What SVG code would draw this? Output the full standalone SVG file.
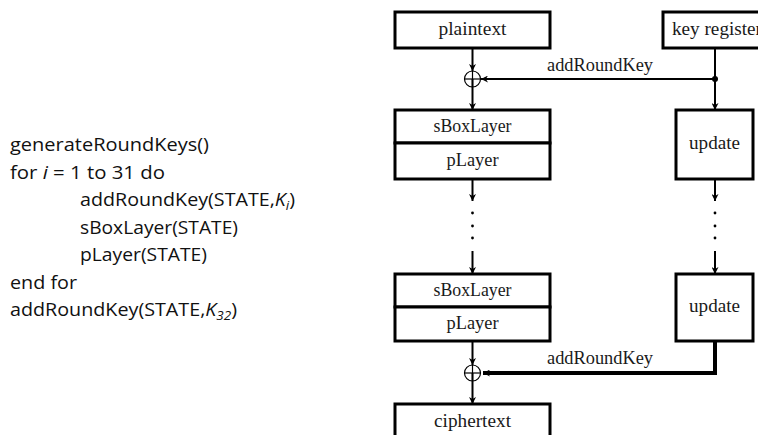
<svg xmlns="http://www.w3.org/2000/svg" width="758" height="435" viewBox="0 0 758 435">
<defs>
<marker id="ah" viewBox="0 0 10 10" refX="10" refY="5" markerWidth="7" markerHeight="7" markerUnits="userSpaceOnUse" orient="auto">
<path d="M0,0 L10,5 L0,10 L3,5 Z" fill="#000"/>
</marker>
</defs>
<style>
.box{fill:#fff;stroke:#000;stroke-width:3}
.lbl{font-family:"Liberation Serif","Times New Roman",serif;font-size:18px;fill:#1a1a1a;text-anchor:middle}
.code{font-family:"Open Sans","Noto Sans",sans-serif;font-size:19px;fill:#111}
.ln{stroke:#000;stroke-width:2;fill:none}
.thk{stroke:#000;stroke-width:4;fill:none}
.xor{fill:none;stroke:#000;stroke-width:1.2}
</style>
<rect width="758" height="435" fill="#fff"/>

<g id="pseudocode">
<text class="code" x="10" y="151" textLength="199" lengthAdjust="spacingAndGlyphs">generateRoundKeys()</text>
<text class="code" x="10" y="178.5" textLength="155" lengthAdjust="spacingAndGlyphs">for <tspan font-style="italic">i</tspan> = 1 to 31 do</text>
<text class="code" x="80" y="206" textLength="215" lengthAdjust="spacingAndGlyphs">addRoundKey(STATE,<tspan font-style="italic">K</tspan><tspan font-style="italic" font-size="13" dy="4">i</tspan><tspan dy="-4">)</tspan></text>
<text class="code" x="80" y="233.5" textLength="158" lengthAdjust="spacingAndGlyphs">sBoxLayer(STATE)</text>
<text class="code" x="80" y="261" textLength="127" lengthAdjust="spacingAndGlyphs">pLayer(STATE)</text>
<text class="code" x="10" y="288.5" textLength="67" lengthAdjust="spacingAndGlyphs">end for</text>
<text class="code" x="10" y="316" textLength="227" lengthAdjust="spacingAndGlyphs">addRoundKey(STATE,<tspan font-style="italic">K</tspan><tspan font-style="italic" font-size="13" dy="4">32</tspan><tspan dy="-4">)</tspan></text>
</g>

<g id="connectors">
<line class="ln" x1="472.5" y1="48" x2="472.5" y2="71" marker-end="url(#ah)"/>
<line class="ln" x1="472.5" y1="79" x2="472.5" y2="110" marker-end="url(#ah)"/>
<line class="ln" x1="715" y1="48" x2="715" y2="110" marker-end="url(#ah)"/>
<line class="ln" x1="715" y1="79" x2="481" y2="79" marker-end="url(#ah)" stroke-width="2.5"/>
<circle cx="715" cy="79" r="3" fill="#000"/>
<line class="ln" x1="472.5" y1="179" x2="472.5" y2="201" marker-end="url(#ah)"/>
<line class="ln" x1="715" y1="179" x2="715" y2="201" marker-end="url(#ah)"/>
<line class="ln" x1="472.5" y1="251" x2="472.5" y2="274" marker-end="url(#ah)"/>
<line class="ln" x1="715" y1="251" x2="715" y2="274" marker-end="url(#ah)"/>
<g fill="#000">
<circle cx="472.5" cy="213" r="1.4"/><circle cx="472.5" cy="226" r="1.4"/><circle cx="472.5" cy="238" r="1.4"/>
<circle cx="715" cy="213" r="1.4"/><circle cx="715" cy="226" r="1.4"/><circle cx="715" cy="238" r="1.4"/>
</g>
<line class="ln" x1="472.5" y1="341" x2="472.5" y2="365" marker-end="url(#ah)"/>
<line class="ln" x1="472.5" y1="373" x2="472.5" y2="404" marker-end="url(#ah)"/>
<path class="thk" d="M715,341 V373 H483" marker-end="url(#ah)"/>
<text class="lbl" x="600" y="71" textLength="106" lengthAdjust="spacingAndGlyphs">addRoundKey</text>
<text class="lbl" x="600" y="364" textLength="106" lengthAdjust="spacingAndGlyphs">addRoundKey</text>
</g>

<g id="xor1">
<circle class="xor" cx="472.5" cy="79" r="8"/>
<line class="xor" x1="464.5" y1="79" x2="480.5" y2="79"/>
<line class="xor" x1="472.5" y1="71" x2="472.5" y2="87"/>
</g>
<g id="xor2">
<circle class="xor" cx="472.5" cy="373" r="8"/>
<line class="xor" x1="464.5" y1="373" x2="480.5" y2="373"/>
<line class="xor" x1="472.5" y1="365" x2="472.5" y2="381"/>
</g>

<g id="plaintext">
<rect class="box" x="395" y="12" width="155" height="36"/>
<text class="lbl" x="472.5" y="35" textLength="68" lengthAdjust="spacingAndGlyphs">plaintext</text>
</g>
<g id="keyregister">
<rect class="box" x="663" y="12" width="110" height="36"/>
<text class="lbl" x="672" y="35" style="text-anchor:start" textLength="90" lengthAdjust="spacingAndGlyphs">key register</text>
</g>
<g id="round1">
<rect class="box" x="395" y="110" width="155" height="33"/>
<text class="lbl" x="472.5" y="132" textLength="78" lengthAdjust="spacingAndGlyphs">sBoxLayer</text>
<rect class="box" x="395" y="143" width="155" height="36"/>
<text class="lbl" x="472.5" y="166" textLength="52" lengthAdjust="spacingAndGlyphs">pLayer</text>
</g>
<g id="update1">
<rect class="box" x="676" y="110" width="77" height="69"/>
<text class="lbl" x="714.5" y="149" textLength="51" lengthAdjust="spacingAndGlyphs">update</text>
</g>
<g id="round2">
<rect class="box" x="395" y="274" width="155" height="33"/>
<text class="lbl" x="472.5" y="296" textLength="78" lengthAdjust="spacingAndGlyphs">sBoxLayer</text>
<rect class="box" x="395" y="307" width="155" height="34"/>
<text class="lbl" x="472.5" y="329" textLength="52" lengthAdjust="spacingAndGlyphs">pLayer</text>
</g>
<g id="update2">
<rect class="box" x="676" y="274" width="77" height="67"/>
<text class="lbl" x="714.5" y="312" textLength="51" lengthAdjust="spacingAndGlyphs">update</text>
</g>
<g id="ciphertext">
<rect class="box" x="395" y="404" width="155" height="40"/>
<text class="lbl" x="472.5" y="427" textLength="77" lengthAdjust="spacingAndGlyphs">ciphertext</text>
</g>
</svg>
